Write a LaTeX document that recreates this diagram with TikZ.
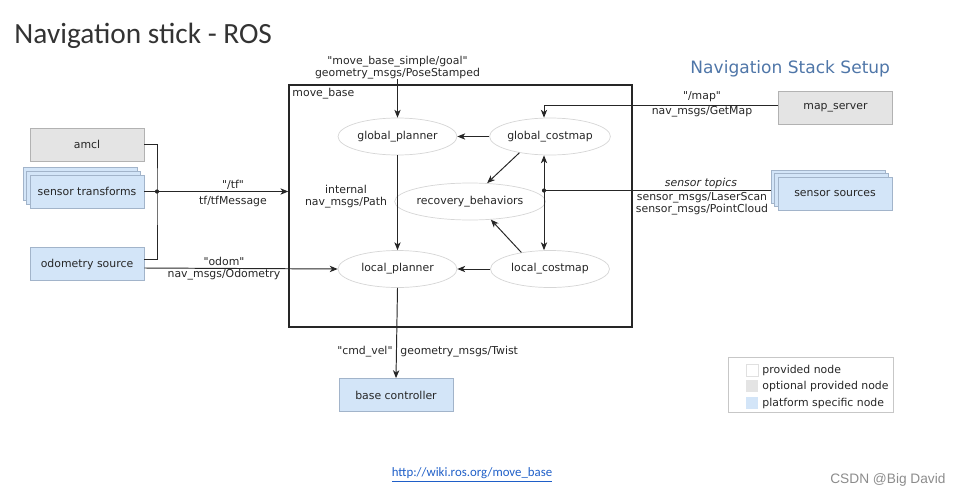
\documentclass[tikz,border=0pt]{standalone}
\usepackage{fontspec}
\setmainfont{DejaVu Sans}
\newfontfamily\titlefont{Carlito}
\newfontfamily\markfont{Liberation Sans}
\usepackage{tikz}
\usetikzlibrary{arrows.meta, positioning, calc, shapes.geometric}

\definecolor{rellenogris}{HTML}{E4E4E4}
\definecolor{bordegris}{HTML}{B2B2B2}
\definecolor{rellenoazul}{HTML}{D3E5F8}
\definecolor{bordeazul}{HTML}{A2B4CA}
\definecolor{bordeelipse}{HTML}{D6D6D6}
\definecolor{tituloazul}{HTML}{4F76A8}
\definecolor{enlace}{HTML}{1F5FC8}

\newcommand{\qt}{\textquotedbl}

\begin{document}
\begin{tikzpicture}[x=0.02cm, y=-0.02cm, line width=0.55pt, color=black!85,
  font=\fontsize{6.2}{6.6}\selectfont,
  every node/.style={inner sep=0pt},
  caja/.style={rectangle, draw, line width=0.4pt, minimum width=2.28cm, minimum height=0.66cm},
  gris/.style={caja, fill=rellenogris, draw=bordegris},
  azul/.style={caja, fill=rellenoazul, draw=bordeazul},
  elipse/.style={ellipse, draw=bordeelipse, line width=0.4pt, fill=white, minimum width=2.38cm, minimum height=0.74cm},
  flecha/.style={-{Stealth[length=4.5pt, width=3.6pt, inset=1.3pt]}},
  muestra/.style={rectangle, minimum size=0.24cm, line width=0.3pt}]

\useasboundingbox (0,0) rectangle (962,497);

% Titulos
\node (titulo) [anchor=base west, text=black!80] at (14,43) {\titlefont\fontsize{16.7}{18}\selectfont Navigation stick - ROS};
\node (setup) [anchor=base west, text=tituloazul] at (690,73) {\fontsize{9.7}{11}\selectfont Navigation Stack Setup};

% Caja move_base
\node (movebase) [draw, line width=0.8pt, minimum width=6.86cm, minimum height=4.84cm] at (460.5,206) {};
\node (mblabel) [anchor=north west] at (292,88) {move\_base};

% Nodos internos
\node (gp) [elipse] at (397.5,136.5) {global\_planner};
\node (gc) [elipse] at (550,136.5) {global\_costmap};
\node (rb) [elipse, minimum width=2.42cm] at (470,201.5) {recovery\_behaviors};
\node (lp) [elipse] at (397.5,269) {local\_planner};
\node (lc) [elipse] at (550,269) {local\_costmap};

% Nodos externos (izquierda)
\node (amcl) [gris] at (87,144.5) {};
\node (st3) [azul] at (80,184) {};
\node (st2) [azul] at (83.5,187.5) {};
\node (st1) [azul] at (87,191.5) {sensor transforms};
\node (odom) [azul] at (87,264) {odometry source};
\node at (amcl) {amcl};

% Nodos externos (derecha y abajo)
\node (map) [gris] at (835.5,108) {map\_server};
\node (ss3) [azul] at (828,186.5) {};
\node (ss2) [azul] at (831.5,190) {};
\node (ss) [azul] at (835,193.5) {sensor sources};
\node (bc) [azul] at (396,395) {base controller};

% Puntos de union
\coordinate (ptf) at (157,191.5);
\coordinate (psens) at (544,190.5);
\coordinate (pgoal) at (397.5,79);

% Flechas de entrada
\draw[flecha] (pgoal) -- (gp.north);
\draw (amcl.east) -| (ptf) |- ($(odom.east)+(0,-5)$);
\draw[flecha] (st1.east) -- (movebase.west |- st1.east);
\fill (ptf) circle (1.2pt);
\draw[flecha] ($(odom.east)+(0,4)$) -- (lp.west);
\draw[flecha] ($(map.west)+(0,-3)$) -| (psens |- gc.north);
\draw (ss3.west |- psens) -- (psens);
\fill (psens) circle (1.2pt);

% Flechas internas
\draw[flecha] (gc.west) -- (gp.east);
\draw[flecha] (lc.west) -- (lp.east);
\draw[flecha] (gp.south) -- (lp.north);
\draw[flecha] (gc.208) -- (rb.47);
\draw[flecha] (lc.150) -- (rb.319);
\draw[{Stealth[length=4.5pt, width=3.6pt, inset=1.3pt]}-{Stealth[length=4.5pt, width=3.6pt, inset=1.3pt]}] (psens |- gc.south) -- (psens |- lc.north);

% Flecha de salida
\draw[flecha] (lp.south) -- (bc.north);

% Etiquetas de los topicos
\node (lgoal) [align=center] at (397.5,67.5) {\qt move\_base\_simple/goal\qt\\geometry\_msgs/PoseStamped};
\node (lmap1) at (702,97) {\qt/map\qt};
\node (lmap2) at (702,112) {nav\_msgs/GetMap};
\node (ltf1) at (233,185) {\qt/tf\qt};
\node (ltf2) at (233,201.5) {tf/tfMessage};
\node (lpath) [align=center] at (346,196.5) {internal\\nav\_msgs/Path};
\node (lodom1) at (224,261.5) {\qt odom\qt};
\node (lodom2) at (224,275) {nav\_msgs/Odometry};
\node (lsens1) at (701,183) {\itshape sensor topics};
\node (lsens2) [align=center] at (702,204) {sensor\_msgs/LaserScan\\sensor\_msgs/PointCloud};
\node (lcmd1) [anchor=east] at (393,352) {\qt cmd\_vel\qt};
\node (lcmd2) [anchor=west] at (400,352) {geometry\_msgs/Twist};

% Leyenda
\node (leyenda) [draw=black!22, line width=0.4pt, minimum width=3.3cm, minimum height=1.1cm] at (810.5,384.5) {};
\node (m1) [muestra, fill=white, draw=black!12] at (752,370) {};
\node (m2) [muestra, fill=rellenogris] at (752,386) {};
\node (m3) [muestra, fill=rellenoazul] at (752,403) {};
\node (t1) [anchor=west] at (762,370) {provided node};
\node (t2) [anchor=west] at (762,386) {optional provided node};
\node (t3) [anchor=west] at (762,403) {platform specific node};

% Pie
\node (url) [text=enlace] at (472,475) {\titlefont\fontsize{7.3}{8}\selectfont\underline{http://wiki.ros.org/move\_base}};
\node (marca) [anchor=east, text=black!45] at (946,480) {\markfont\fontsize{7.8}{9}\selectfont CSDN @Big David};

\end{tikzpicture}
\end{document}
